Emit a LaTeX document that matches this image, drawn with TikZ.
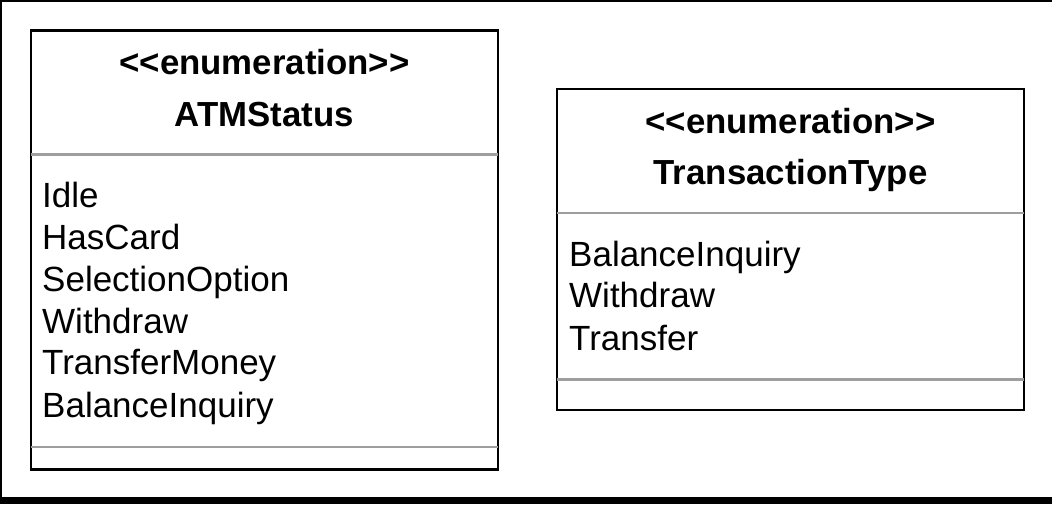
\documentclass[tikz,border=0pt]{standalone}
\usepackage{fontspec}
\setmainfont{Liberation Sans}
\begin{document}
\begin{tikzpicture}[x=1pt,y=-1pt,
  umlbox/.style={draw=black,line width=2.5pt,rectangle,inner sep=0pt,minimum width=467pt},
  sepline/.style={draw=black!38,line width=2.5pt},
  frameline/.style={draw=black,line cap=rect},
  ttl/.style={anchor=base,inner sep=0pt,font=\fontsize{34.8}{40}\selectfont\bfseries},
  attr/.style={anchor=base west,inner sep=0pt,font=\fontsize{35}{40}\selectfont}]
\useasboundingbox (0,0) rectangle (1052,504);
\fill[white] (0,0) rectangle (1052,504);
% outer frame
\coordinate (ftl) at (1.2,1.2);
\coordinate (ftr) at (1052,1.2);
\coordinate (fbl) at (1.2,500.5);
\coordinate (fbr) at (1052,500.5);
\draw[frameline,line width=2.5pt] (ftr) -- (ftl) -- (fbl);
\draw[frameline,line width=7pt] (fbl) -- (fbr);
% boxes
\node[umlbox,minimum height=439pt] (atm) at (264.5,250) {};
\node[umlbox,minimum height=321pt] (tt) at (790.5,249.5) {};
% separators
\draw[sepline] ([xshift=1.3pt,yshift=-125pt]atm.north west) -- ([xshift=-1.3pt,yshift=-125pt]atm.north east);
\draw[sepline] ([xshift=1.3pt,yshift=24pt]atm.south west) -- ([xshift=-1.3pt,yshift=24pt]atm.south east);
\draw[sepline] ([xshift=1.3pt,yshift=-125pt]tt.north west) -- ([xshift=-1.3pt,yshift=-125pt]tt.north east);
\draw[sepline] ([xshift=1.3pt,yshift=32pt]tt.south west) -- ([xshift=-1.3pt,yshift=32pt]tt.south east);
% ATMStatus
\node[ttl] (atms) at (264.5,74) {{<}{<}enumeration{>}{>}};
\node[ttl] (atmn) at (264.5,126) {ATMStatus};
\node[attr] (a1) at (42,207) {Idle};
\node[attr] (a2) at (42,249) {HasCard};
\node[attr] (a3) at (42,291) {SelectionOption};
\node[attr] (a4) at (42,333) {Withdraw};
\node[attr] (a5) at (42,374) {TransferMoney};
\node[attr] (a6) at (42,417) {BalanceInquiry};
% TransactionType
\node[ttl] (tts) at (790.5,133) {{<}{<}enumeration{>}{>}};
\node[ttl] (ttn) at (790.5,184) {TransactionType};
\node[attr] (b1) at (569,266) {BalanceInquiry};
\node[attr] (b2) at (569,307) {Withdraw};
\node[attr] (b3) at (569,350) {Transfer};
\end{tikzpicture}
\end{document}
